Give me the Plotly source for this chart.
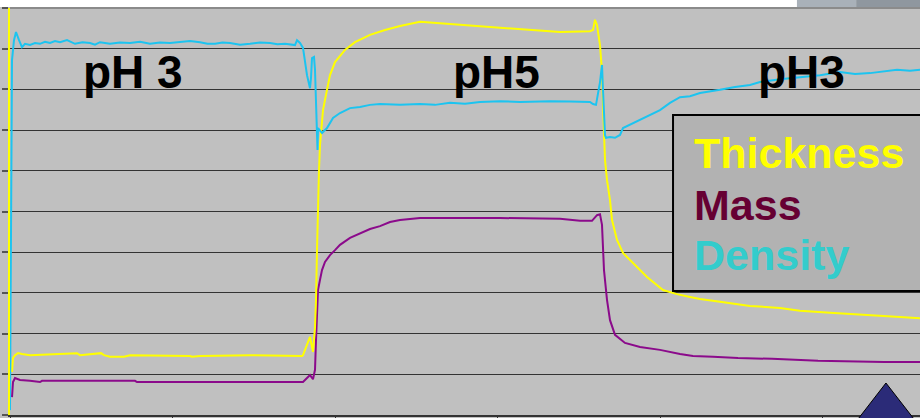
import plotly.graph_objects as go

# Time axis in seconds, signals in arbitrary units (one grid division = 1)
thick_t = [16, 24, 40, 64, 96, 160, 536, 560, 728, 752, 800, 912, 960, 1440, 1456, 1520, 1920, 2160,
           2336, 2344, 2360, 2376, 2400, 2416, 2424, 2440, 2448, 2456, 2464, 2472, 2480, 2488, 2504,
           2536, 2560, 2600, 2680, 2760, 2880, 3000, 3120, 3280, 3520, 3760, 3920, 4240, 4400, 4640,
           4664, 4680, 4696, 4720, 4736, 4744, 4752, 4760, 4776, 4800, 4816, 4856, 4904, 4984, 5096,
           5224, 5336, 5440, 5520, 5680, 5920, 6160, 6320, 6560, 6800, 7120, 7280]
thickness = [1.06, 1.40, 1.47, 1.52, 1.50, 1.47, 1.52, 1.47, 1.52, 1.47, 1.43, 1.43, 1.47, 1.45, 1.43,
             1.45, 1.47, 1.45, 1.45, 1.47, 1.60, 1.77, 1.92, 1.67, 1.55, 2.16, 2.83, 4.05, 5.28, 6.02,
             6.63, 7.00, 7.49, 7.99, 8.35, 8.67, 8.97, 9.16, 9.34, 9.46, 9.56, 9.66, 9.61, 9.56, 9.51,
             9.46, 9.41, 9.43, 9.46, 9.71, 9.58, 9.09, 8.43, 7.62, 7.00, 6.27, 5.77, 5.28, 4.79, 4.30,
             3.98, 3.73, 3.39, 3.07, 2.97, 2.90, 2.85, 2.78, 2.68, 2.63, 2.56, 2.51, 2.46, 2.41, 2.38]

mass_t = [16, 24, 40, 80, 160, 240, 256, 1000, 1016, 2344, 2360, 2384, 2400, 2424, 2440, 2448, 2456,
          2464, 2480, 2496, 2520, 2560, 2600, 2640, 2720, 2800, 2880, 2960, 3040, 3120, 3280, 3920,
          4400, 4560, 4656, 4696, 4720, 4736, 4744, 4752, 4776, 4800, 4840, 4920, 5040, 5200, 5360,
          5464, 5624, 5824, 6096, 6464, 6992, 7280]
mass = [0.44, 0.81, 0.91, 0.86, 0.84, 0.81, 0.84, 0.84, 0.81, 0.81, 0.86, 0.93, 0.98, 0.88, 1.11,
        1.84, 2.58, 3.07, 3.32, 3.56, 3.76, 3.93, 4.05, 4.18, 4.35, 4.47, 4.57, 4.64, 4.74, 4.79,
        4.84, 4.84, 4.82, 4.77, 4.77, 4.91, 4.93, 4.67, 4.05, 3.56, 2.83, 2.33, 1.97, 1.77, 1.67,
        1.60, 1.50, 1.45, 1.43, 1.40, 1.38, 1.33, 1.30, 1.30]

dens_t = [0, 16, 32, 48, 72, 96, 120, 160, 200, 240, 280, 320, 360, 400, 456, 520, 580, 640, 680, 720,
          800, 880, 960, 1040, 1120, 1200, 1280, 1360, 1440, 1520, 1580, 1640, 1700, 1760, 1840, 1920,
          2000, 2080, 2140, 2200, 2280, 2296, 2320, 2344, 2360, 2376, 2400, 2408, 2416, 2432, 2440,
          2448, 2456, 2460, 2464, 2480, 2496, 2536, 2584, 2640, 2720, 2800, 2880, 2960, 3120, 3280,
          3400, 3520, 3640, 3760, 3920, 4080, 4320, 4480, 4640, 4664, 4688, 4720, 4736, 4744, 4752,
          4760, 4768, 4800, 4840, 4880, 4904, 4960, 5040, 5120, 5200, 5280, 5360, 5440, 5520, 5680,
          5800, 5920, 6000, 6160, 6320, 6480, 6640, 6760, 6880, 7000, 7096, 7200, 7280]
density = [0.12, 8.72, 9.21, 9.41, 9.21, 9.04, 9.12, 9.09, 9.14, 9.12, 9.17, 9.14, 9.19, 9.16, 9.21,
           9.12, 9.16, 9.14, 9.10, 9.16, 9.12, 9.15, 9.14, 9.17, 9.12, 9.15, 9.14, 9.16, 9.19, 9.16,
           9.12, 9.12, 9.15, 9.14, 9.10, 9.12, 9.15, 9.14, 9.11, 9.12, 9.09, 9.21, 9.14, 9.02, 8.72,
           8.35, 8.03, 8.28, 8.77, 8.80, 8.48, 7.74, 7.00, 6.51, 7.05, 7.00, 6.93, 7.05, 7.30, 7.42,
           7.54, 7.57, 7.62, 7.64, 7.62, 7.64, 7.62, 7.67, 7.65, 7.69, 7.71, 7.69, 7.71, 7.70, 7.69,
           7.64, 7.62, 8.18, 8.60, 7.99, 7.37, 6.88, 6.81, 6.83, 6.81, 6.88, 7.05, 7.13, 7.25, 7.37,
           7.49, 7.67, 7.81, 7.83, 7.91, 7.99, 8.06, 8.11, 8.18, 8.25, 8.30, 8.35, 8.43, 8.38, 8.40,
           8.45, 8.48, 8.46, 8.48]

legend_names = ["Thickness", "Mass", "Density"]
legend_colors = ["#ffff00", "#660033", "#33cccc"]
phase_labels = ["pH 3", "pH5", "pH3"]

BG = "#c0c0c0"
fig = go.Figure()
fig.add_trace(go.Scatter(x=mass_t, y=mass, mode="lines", line=dict(color="#8b0a8b", width=2)))
fig.add_trace(go.Scatter(x=thick_t, y=thickness, mode="lines", line=dict(color="#ffff00", width=2)))
fig.add_trace(go.Scatter(x=dens_t, y=density, mode="lines", line=dict(color="#1cc4f0", width=2)))

bold = "Liberation Sans, Arial, sans-serif"

# phase labels
for txt, xp in zip(phase_labels, [0.078, 0.485, 0.820]):
    fig.add_annotation(x=xp, y=0.8428, xref="paper", yref="paper", text="<b>%s</b>" % txt,
                       showarrow=False, xanchor="left", yanchor="middle",
                       font=dict(family=bold, size=46, color="#000000"))

# legend panel
fig.add_shape(type="rect", xref="paper", yref="paper", x0=0.7286, x1=1.02, y0=0.3047, y1=0.7371,
              fillcolor="#b2b2b2", line=dict(color="#000000", width=2), layer="above")
for name, col, yp in zip(legend_names, legend_colors, [0.6437, 0.516, 0.393]):
    fig.add_annotation(x=0.7495, y=yp, xref="paper", yref="paper", text="<b>%s</b>" % name,
                       showarrow=False, xanchor="left", yanchor="middle",
                       font=dict(family=bold, size=43, color=col))

# top border of the plot area
fig.add_shape(type="line", xref="paper", yref="paper", x0=0, x1=1, y0=1, y1=1,
              line=dict(color="#7a7a7a", width=1.5), layer="below")

# strip above the plot and the marker in the lower right
fig.add_shape(type="rect", xref="paper", yref="paper", x0=-0.02, x1=0.8648, y0=1.0025, y1=1.03,
              fillcolor="#ffffff", line=dict(width=0), layer="above")
fig.add_shape(type="rect", xref="paper", yref="paper", x0=0.8648, x1=0.93, y0=1.0025, y1=1.03,
              fillcolor="#a9b1b9", line=dict(width=0), layer="above")
fig.add_shape(type="rect", xref="paper", yref="paper", x0=0.93, x1=1.01, y0=1.0025, y1=1.03,
              fillcolor="#8f979f", line=dict(width=0), layer="above")
fig.add_shape(type="path", xref="paper", yref="paper",
              path="M 0.9626 0.0786 L 0.9319 -0.0100 L 0.9934 -0.0100 Z",
              fillcolor="#2b2b78", line=dict(color="#000000", width=1), layer="above")

fig.update_layout(
    width=920, height=418,
    margin=dict(l=10, r=0, t=8, b=3),
    paper_bgcolor=BG, plot_bgcolor=BG,
    showlegend=False,
    xaxis=dict(range=[0, 7280], tick0=0, dtick=1300, showgrid=False, zeroline=False,
               showticklabels=False, ticks="outside", ticklen=4, tickcolor="#333333",
               showline=True, linecolor="#333333", linewidth=2),
    yaxis=dict(range=[0, 10], tick0=0, dtick=1, showgrid=True, gridcolor="#333333", gridwidth=1.4,
               zeroline=False, showticklabels=False, ticks="outside", ticklen=6,
               tickcolor="#555555", tickwidth=1.5,
               showline=True, linecolor="#ffff00", linewidth=2),
)

fig.write_html("out.html")
